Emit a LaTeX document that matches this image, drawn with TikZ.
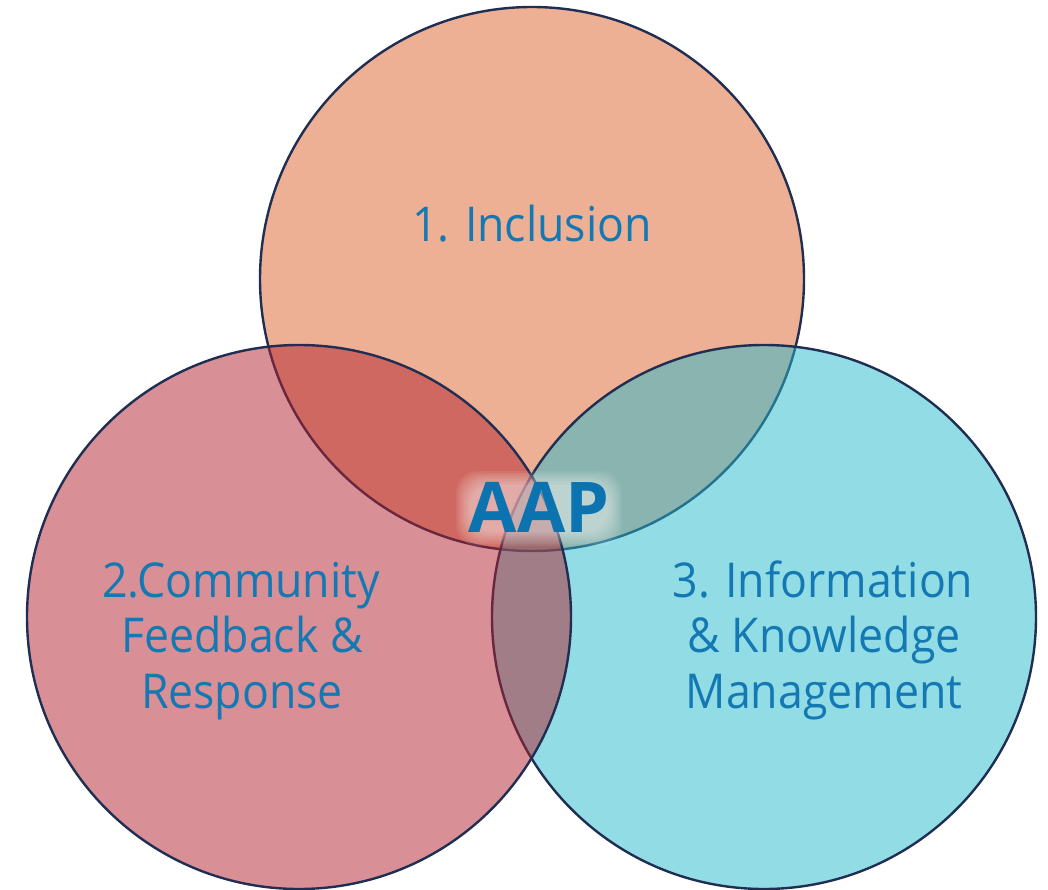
\documentclass[tikz,border=0pt]{standalone}
\usepackage{fontspec}
\setmainfont[FakeStretch=0.93]{Open Sans}
\newfontfamily\aapfont{Open Sans}
\definecolor{topc}{HTML}{EEB094}
\definecolor{leftc}{RGB}{177,33,45}
\definecolor{rightc}{RGB}{37,185,203}
\definecolor{edgec}{HTML}{1F2E52}
\definecolor{txtc}{HTML}{1479B3}
\definecolor{aapc}{HTML}{0B73B0}
\tikzset{
  venn/.style={line width=2.4pt, draw=edgec},
  lbl/.style={text=txtc, font=\fontsize{48}{56}\selectfont, anchor=base, inner sep=0pt},
  big/.style={text=aapc, font=\aapfont\bfseries\fontsize{70}{72}\selectfont, anchor=base, inner sep=0pt},
  glowbox/.style={fill=white, fill opacity=0.075, draw=none}
}
\begin{document}
\begin{tikzpicture}[x=1pt,y=-1pt]
\useasboundingbox (0,0) rectangle (1048,890);
\coordinate (ct) at (532,279);
\coordinate (cl) at (299,617);
\coordinate (cr) at (764,617);
\path[venn, fill=topc] (ct) circle[radius=272];
\path[venn, fill=rightc, fill opacity=0.5] (cr) circle[radius=272];
\path[venn, fill=leftc, fill opacity=0.5] (cl) circle[radius=272];
\node[lbl] (inc) at (532,242) {1. Inclusion};
\node[lbl] (l1) at (241,597) {2.Community};
\node[lbl] (l2) at (242,652) {Feedback \&};
\node[lbl] (l3) at (242,708) {Response};
\node[lbl] (r1) at (823,597) {3. Information};
\node[lbl] (r2) at (824,652) {\& Knowledge};
\node[lbl] (r3) at (824,708) {Management};
\foreach \d in {14,12,10,8,6,4,2,0}{
  \path[glowbox, rounded corners=22pt] (470-\d,485-\d) rectangle (608+\d,532+\d);
}
\node[big] (aap) at (539,532) {AAP};
\end{tikzpicture}
\end{document}
